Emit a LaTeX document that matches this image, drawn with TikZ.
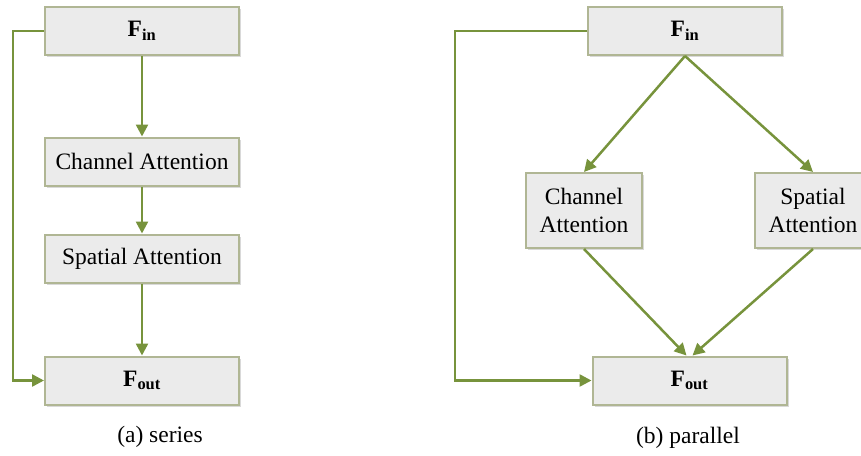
\documentclass[tikz,border=0pt]{standalone}
\usepackage{fontspec}
\setmainfont{Liberation Serif}
\usetikzlibrary{arrows.meta,shadows}
\definecolor{arrowgreen}{HTML}{77933C}
\definecolor{boxedge}{HTML}{B0B694}
\definecolor{boxfill}{HTML}{EBEBEB}
\begin{document}
\begin{tikzpicture}[x=1pt,y=-1pt,
    block/.style={draw=boxedge,line width=2pt,fill=boxfill,
        drop shadow={shadow xshift=2pt,shadow yshift=-2pt,opacity=0.3},
        inner sep=0pt,align=center,font=\fontsize{23.5}{28}\selectfont},
    wide/.style={block,minimum width=194pt,minimum height=48pt},
    tall/.style={block,minimum width=116pt,minimum height=75pt},
    flow/.style={draw=arrowgreen,line width=2.5pt,
        -{Triangle[length=12pt,width=12pt]}},
    caption/.style={font=\fontsize{23.5}{28}\selectfont}]
    \useasboundingbox (0,0) rectangle (861,455);
    \clip (0,0) rectangle (861,455);

    % (a) series
    \node[wide] (fina) at (142,31) {\textbf{F}\textsubscript{\textbf{in}}};
    \node[wide] (chna) at (142,161.5) {Channel Attention};
    \node[wide] (spaa) at (142,258.5) {Spatial Attention};
    \node[wide] (fouta) at (142,380.5) {\textbf{F}\textsubscript{\textbf{out}}};
    \coordinate (skipa) at (13,31);
    \draw[flow] (fina) -- (chna);
    \draw[flow] (chna) -- (spaa);
    \draw[flow] (spaa) -- (fouta);
    \draw[flow] (fina.west) -- (skipa) |- (fouta.west);
    \node[caption] (capa) at (160,437) {(a) series};

    % (b) parallel
    \node[wide] (finb) at (685,31) {\textbf{F}\textsubscript{\textbf{in}}};
    \node[tall] (chnb) at (584,210.5) {Channel\\Attention};
    \node[tall] (spab) at (813,210.5) {Spatial\\Attention};
    \node[wide] (foutb) at (689.5,380.5) {\textbf{F}\textsubscript{\textbf{out}}};
    \coordinate (skipb) at (455,31);
    \draw[flow] (finb.south) -- (chnb.north);
    \draw[flow] (finb.south) -- (spab.north);
    \draw[flow] (chnb.south) -- ([xshift=-3pt]foutb.north);
    \draw[flow] (spab.south) -- ([xshift=3pt]foutb.north);
    \draw[flow] (finb.west) -- (skipb) |- (foutb.west);
    \node[caption] (capb) at (688,438) {(b) parallel};
\end{tikzpicture}
\end{document}
